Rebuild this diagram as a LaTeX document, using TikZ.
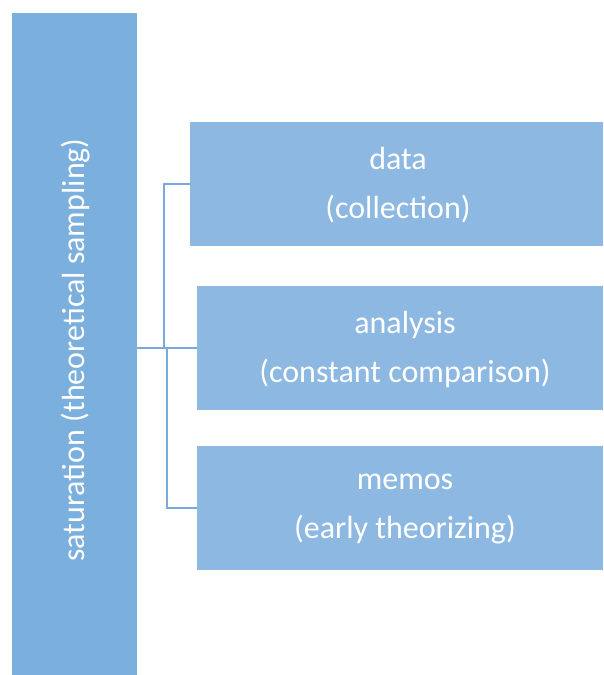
\documentclass[tikz,border=0pt]{standalone}
\usepackage{fontspec}
\setmainfont{Carlito}
\definecolor{sidefill}{HTML}{7BAFDE}
\definecolor{stepfill}{HTML}{8DB8E2}
\definecolor{linkcol}{HTML}{7BA7DA}
\begin{document}
\begin{tikzpicture}[x=1pt,y=-1pt,
  sidebox/.style={fill=sidefill,draw=none,inner sep=0pt},
  stagebox/.style={fill=stepfill,draw=none,inner sep=0pt},
  label/.style={text=white,font=\fontsize{32}{49}\selectfont,align=center,inner sep=0pt},
  link/.style={draw=linkcol,line width=2pt}]
\useasboundingbox (0,0) rectangle (603,675);
% tall side bar with rotated caption
\node[sidebox,minimum width=125pt,minimum height=662pt,anchor=north west] (side) at (11.5,13) {};
\node[label,rotate=90] (sidetext) at (76,350) {saturation (theoretical sampling)};
% stage boxes
\node[stagebox,minimum width=413pt,minimum height=124pt,anchor=north west] (data) at (190,122) {};
\node[label] (datatext) at (398,185) {data\\(collection)};
\node[stagebox,minimum width=406pt,minimum height=124pt,anchor=north west] (analysis) at (197,286) {};
\node[label] (analysistext) at (405,349) {analysis\\(constant comparison)};
\node[stagebox,minimum width=406pt,minimum height=124pt,anchor=north west] (memos) at (197,446) {};
\node[label] (memostext) at (405,509) {memos\\(early theorizing)};
% bracket connectors
\coordinate (up) at (164,184);
\coordinate (mid) at (164,348);
\coordinate (midb) at (167,348);
\coordinate (low) at (167,508);
\draw[link] (side.east |- mid) -- (analysis.west |- mid);
\draw[link] (mid) -- (up) -- (data.west |- up);
\draw[link] (midb) -- (low) -- (memos.west |- low);
\end{tikzpicture}
\end{document}
